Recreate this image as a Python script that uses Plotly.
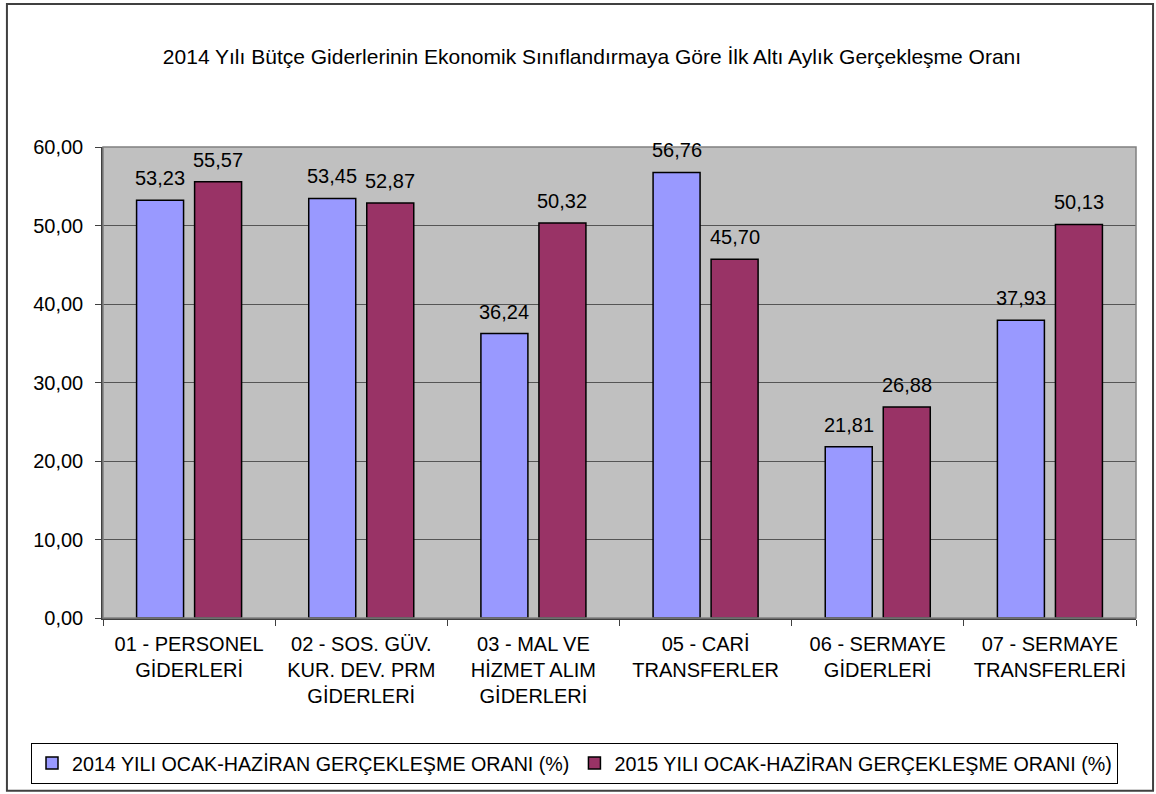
import plotly.graph_objects as go

categories = [
    "01 - PERSONEL<br>GİDERLERİ",
    "02 - SOS. GÜV.<br>KUR. DEV. PRM<br>GİDERLERİ",
    "03 - MAL VE<br>HİZMET ALIM<br>GİDERLERİ",
    "05 - CARİ<br>TRANSFERLER",
    "06 - SERMAYE<br>GİDERLERİ",
    "07 - SERMAYE<br>TRANSFERLERİ",
]
values_2014 = [53.23, 53.45, 36.24, 56.76, 21.81, 37.93]
values_2015 = [55.57, 52.87, 50.32, 45.70, 26.88, 50.13]
name_2014 = "2014 YILI OCAK-HAZİRAN GERÇEKLEŞME ORANI (%)"
name_2015 = "2015 YILI OCAK-HAZİRAN GERÇEKLEŞME ORANI (%)"
title_text = "2014 Yılı Bütçe Giderlerinin Ekonomik Sınıflandırmaya Göre İlk Altı Aylık Gerçekleşme Oranı"

FONT = "Liberation Sans, Arial, sans-serif"

def fmt(v):
    return f"{v:.2f}".replace(".", ",")

fig = go.Figure()
fig.add_trace(go.Bar(x=categories, y=values_2014, name=name_2014,
                     marker=dict(color="#9999FF", line=dict(color="black", width=1.5))))
fig.add_trace(go.Bar(x=categories, y=values_2015, name=name_2015,
                     marker=dict(color="#993366", line=dict(color="black", width=1.5))))

annotations = []
for vals, shift in ((values_2014, -29), (values_2015, 29)):
    for c, v in zip(categories, vals):
        annotations.append(dict(x=c, y=v, text=fmt(v), showarrow=False,
                                xshift=shift, yshift=9, yanchor="bottom",
                                font=dict(family=FONT, size=20, color="black")))

fig.update_layout(
    width=1156, height=794,
    margin=dict(l=103, r=20, t=147, b=176, autoexpand=False),
    paper_bgcolor="white",
    plot_bgcolor="#C0C0C0",
    separators=",.",
    barmode="group",
    bargap=0.326,
    bargroupgap=0.19,
    font=dict(family=FONT, size=20, color="black"),
    title=dict(text=title_text, x=592 / 1156, xanchor="center", y=1 - 57 / 794, yanchor="middle",
               font=dict(family=FONT, size=21, color="black")),
    legend=dict(orientation="h", x=(31 - 103) / 1033, xanchor="left", y=-0.265, yanchor="top",
                bordercolor="black", borderwidth=1, bgcolor="white",
                font=dict(family=FONT, size=19.7), itemwidth=30, tracegroupgap=0),
    annotations=annotations,
    shapes=[
        dict(type="rect", xref="paper", yref="paper", x0=0, x1=1, y0=0, y1=1,
             line=dict(color="#808080", width=1.5), layer="above"),
        dict(type="rect", xref="paper", yref="paper", x0=-0.093, x1=1.0165, y0=-0.367, y1=1.3036,
             line=dict(color="#404040", width=2)),
    ],
)
fig.update_xaxes(type="category", tickson="boundaries", ticks="outside", ticklen=6,
                 tickcolor="#404040", showline=True, linecolor="#404040", linewidth=1.5,
                 ticklabelstandoff=7, tickfont=dict(family=FONT, size=20))
fig.update_yaxes(range=[0, 60], dtick=10, tickformat=".2f", ticks="outside", ticklen=6,
                 tickcolor="#404040", showline=True, linecolor="#404040", linewidth=1.5,
                 showgrid=True, gridcolor="#555555", gridwidth=1, zeroline=False,
                 ticklabelstandoff=8, tickfont=dict(family=FONT, size=20))

fig.write_html("out.html", config={"displayModeBar": False},
               post_script="document.body.style.margin='0';document.body.style.overflow='hidden';")
